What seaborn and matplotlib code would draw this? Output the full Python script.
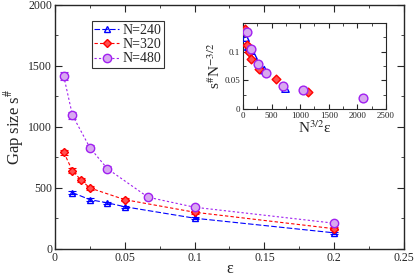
import numpy as np
import pandas as pd
import seaborn as sns
import matplotlib
matplotlib.use("Agg")
import matplotlib.pyplot as plt
from matplotlib.ticker import MultipleLocator

# data
eps_240 = [0.0125, 0.025, 0.0375, 0.05, 0.1, 0.2]
gap_240 = [462, 404, 378, 346, 252, 132]
err_240 = [12, 12, 10, 10, 10, 8]

eps_320 = [0.00625, 0.0125, 0.01875, 0.025, 0.05, 0.1, 0.2]
gap_320 = [793, 641, 564, 500, 404, 301, 166]
err_320 = [22, 20, 16, 14, 12, 12, 10]

eps_480 = [0.00625, 0.0125, 0.025, 0.0375, 0.0667, 0.1, 0.2]
gap_480 = [1418, 1096, 830, 658, 424, 342, 211]
err_480 = [35, 30, 22, 18, 15, 14, 12]

Ns = [240, 320, 480]
labels = ["N=240", "N=320", "N=480"]

sns.set_style("ticks")
plt.rcParams["font.family"] = ["Liberation Serif", "DejaVu Serif"]
plt.rcParams["mathtext.fontset"] = "stix"

rows = []
for N, lab, e, g, s in zip(Ns, labels, [eps_240, eps_320, eps_480],
                           [gap_240, gap_320, gap_480], [err_240, err_320, err_480]):
    for a, b, c in zip(e, g, s):
        rows.append({"N": N, "label": lab, "eps": a, "gap": b, "err": c,
                     "x_sc": N ** 1.5 * a, "y_sc": b / N ** 1.5})
df = pd.DataFrame(rows)

edge = {"N=240": "#0000ff", "N=320": "#ff0000", "N=480": "#a020f0"}
face = {"N=240": "none", "N=320": "#ff5050", "N=480": "#d8a8f0"}
mk = {"N=240": "^", "N=320": "D", "N=480": "o"}
ls = {"N=240": (0, (5, 2)), "N=320": (0, (3, 2)), "N=480": (0, (2, 2))}
ms = {"N=240": 5, "N=320": 4.2, "N=480": 6}

fig = plt.figure(figsize=(4.15, 2.76), dpi=100)
ax = fig.add_axes([0.1325, 0.098, 0.841, 0.884])

for lab in labels:
    d = df[df.label == lab]
    ax.errorbar(d.eps, d.gap, yerr=d.err, fmt="none", ecolor=edge[lab],
                elinewidth=0.8, capsize=3, capthick=0.8)
    sns.lineplot(data=d, x="eps", y="gap", ax=ax, color=edge[lab], lw=0.8,
                 linestyle=ls[lab], marker=mk[lab], markersize=ms[lab],
                 markerfacecolor=face[lab], markeredgecolor=edge[lab],
                 markeredgewidth=1.0, label=lab)

ax.set_xlim(0, 0.25)
ax.set_ylim(0, 2000)
ax.xaxis.set_major_locator(MultipleLocator(0.05))
ax.xaxis.set_minor_locator(MultipleLocator(0.025))
ax.yaxis.set_major_locator(MultipleLocator(500))
ax.yaxis.set_minor_locator(MultipleLocator(250))
ax.set_xticks([0, 0.05, 0.1, 0.15, 0.2, 0.25])
ax.set_xticklabels(["0", "0.05", "0.1", "0.15", "0.2", "0.25"])
ax.tick_params(which="both", direction="in", top=True, right=True, labelsize=8.5, pad=2)
ax.tick_params(which="major", length=5)
ax.tick_params(which="minor", length=2.5)
ax.set_xlabel("ε", fontsize=11.5, labelpad=-2)
ax.set_ylabel("Gap size s$^{\\#}$", fontsize=12, labelpad=2)
for sp in ax.spines.values():
    sp.set_linewidth(1.0)

leg = ax.legend(loc="upper left", bbox_to_anchor=(0.105, 0.935), fontsize=10,
                frameon=True, fancybox=False, edgecolor="black",
                handlelength=1.8, handletextpad=0.2, borderpad=0.2,
                labelspacing=0.1, borderaxespad=0)
leg.get_frame().set_linewidth(0.8)

# inset with rescaled axes
ins = fig.add_axes([0.5855, 0.605, 0.3446, 0.312])
for lab in labels:
    d = df[df.label == lab]
    sns.scatterplot(data=d, x="x_sc", y="y_sc", ax=ins, marker=mk[lab],
                    s=ms[lab] ** 2 * 1.1, color=face[lab] if face[lab] != "none" else "none",
                    edgecolor=edge[lab], linewidth=1.0, zorder=3)
ins.set_xlim(0, 2500)
ins.set_ylim(0, 0.15)
ins.xaxis.set_major_locator(MultipleLocator(500))
ins.xaxis.set_minor_locator(MultipleLocator(250))
ins.set_yticks([0, 0.05, 0.1])
ins.set_yticklabels(["0", "0.05", "0.1"])
ins.yaxis.set_minor_locator(MultipleLocator(0.025))
ins.tick_params(which="both", direction="in", top=True, right=True, labelsize=6.5, pad=2)
ins.tick_params(which="major", length=3.5)
ins.tick_params(which="minor", length=2)
ins.set_xlabel("N$^{3/2}$ε", fontsize=11, labelpad=0)
ins.set_ylabel("s$^{\\#}$N$^{-3/2}$", fontsize=11, labelpad=1)

fig.savefig("out.png", dpi=100)
